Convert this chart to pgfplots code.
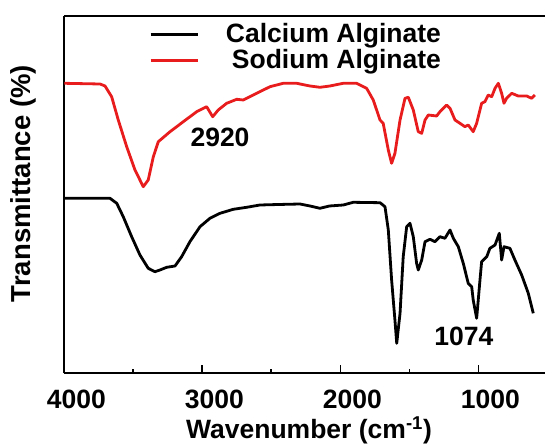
\documentclass[border=0pt]{standalone}
\usepackage{fontspec}
\setmainfont{Liberation Sans}
\usepackage{pgfplots}
\pgfplotsset{compat=1.18}
\definecolor{spred}{RGB}{232,28,28}
\newcommand{\myfont}{\fontsize{26.5bp}{30bp}\selectfont\bfseries}
\begin{document}
\myfont
\begin{tikzpicture}
\begin{axis}[
  name=ax, scale only axis, width=480.7bp, height=357.3bp,
  x dir=reverse, xmin=518, xmax=4000, ymin=15, ymax=372.3,
  axis x line*=box, axis y line*=left,
  axis line style={line width=2bp, black},
  ytick=\empty,
  xtick={4000,3000,2000,1000}, xticklabels={4000,3000,2000,1000},
  minor xtick={3500,2500,1500},
  xtick pos=left, tick align=inside,
  major tick length=8bp, minor tick length=4.5bp,
  every tick/.style={line width=1.8bp, black},
  xticklabel style={font=\myfont, anchor=base, yshift=-35.7bp, xshift=12bp},
  xlabel={Wavenumber (cm\textsuperscript{-1})},
  ylabel={Transmittance (\%)},
  xlabel style={font=\myfont, at={(axis description cs:0.509,-0.184)}, anchor=base},
  ylabel style={font=\fontsize{27.5bp}{30bp}\selectfont\bfseries, at={(axis description cs:-0.0845,0.530)}, anchor=center},
  legend cell align=right,
  legend style={draw=none, fill=none, at={(axis description cs:0.170,0.9838)}, anchor=north west,
    nodes={inner sep=0pt, text height=19bp, text depth=7bp, font=\myfont},
    column sep=27bp, row sep=0pt},
  legend image code/.code={\draw[#1] (0bp,2bp) -- (47bp,2bp);},
  every axis plot/.append style={line width=2.8bp, line join=round},
]
\addplot[black] coordinates {
(4000,189.7) (3669,189.7) (3620,184.7) (3573,171.3) (3512,151.3) (3452,133) (3392,119.7)
(3343,116.3) (3307,118) (3258,120.7) (3198,122) (3150,131.3) (3090,146.3) (3017,161.3)
(2945,169.7) (2872,174.7) (2776,178.7) (2679,180.7) (2583,183) (2450,183.5) (2293,184)
(2220,182) (2148,179.7) (2080,182) (1979,183) (1907,185.7) (1713,185.3) (1677,181.3)
(1653,158) (1629,108) (1605,68) (1592,44.7) (1568,74.7) (1545,131.3) (1520,161.3)
(1496,164.7) (1472,151.3) (1448,124.7) (1436,118) (1411,128) (1387,146.3) (1351,148.7)
(1315,146.3) (1279,151.3) (1243,149.7) (1206,158) (1182,149.7) (1146,141.3) (1110,124.7)
(1074,104.7) (1049,101.3) (1038,88) (1013,69.7) (989,108) (977,126.3) (940,131.3)
(917,139.7) (880,143) (849,154.7) (832,128) (815,141.3) (772,139.7) (736,128) (687,113)
(639,94.7) (603,74.7)
};
\addlegendentry{Calcium Alginate}
\addplot[spred] coordinates {
(4000,304.7) (3741,304) (3705,302) (3657,291.3) (3609,268) (3548,241.3) (3488,218)
(3428,201.3) (3392,208) (3355,231.3) (3319,246.3) (3234,256.3) (3138,266.3) (3041,276.3)
(2969,281.3) (2925,271.3) (2885,278) (2824,284.7) (2751,288.7) (2704,288) (2606,294.7)
(2510,301.3) (2414,304.7) (2317,304.7) (2220,302) (2148,300.7) (2076,302) (1979,304.7)
(1882,304.7) (1810,299.7) (1762,288) (1713,268) (1690,264.7) (1653,238) (1629,224.7)
(1605,234.7) (1568,268) (1532,289.7) (1508,290.7) (1472,278) (1436,256.3) (1411,254.7)
(1387,268) (1363,273) (1303,272) (1279,276.3) (1230,283) (1206,279.7) (1170,268)
(1134,264.7) (1098,261.3) (1074,263) (1038,256.3) (1013,264.7) (977,284.7) (953,286.3)
(929,293) (904,291.3) (880,299.7) (856,304.7) (832,294.7) (815,284.7) (796,289.7)
(759,294.7) (712,292) (651,292) (615,289.7) (591,293)
};
\addlegendentry{Sodium Alginate}
\node[font=\myfont, anchor=center] at (axis cs:2872,251) {2920};
\node[font=\myfont, anchor=center] at (axis cs:1106,51.3) {1074};
\end{axis}
\pgfresetboundingbox
\path[use as bounding box] ([xshift=-64.3bp,yshift=-72bp]ax.south west) rectangle ([yshift=15.7bp]ax.north east);
\end{tikzpicture}
\end{document}
